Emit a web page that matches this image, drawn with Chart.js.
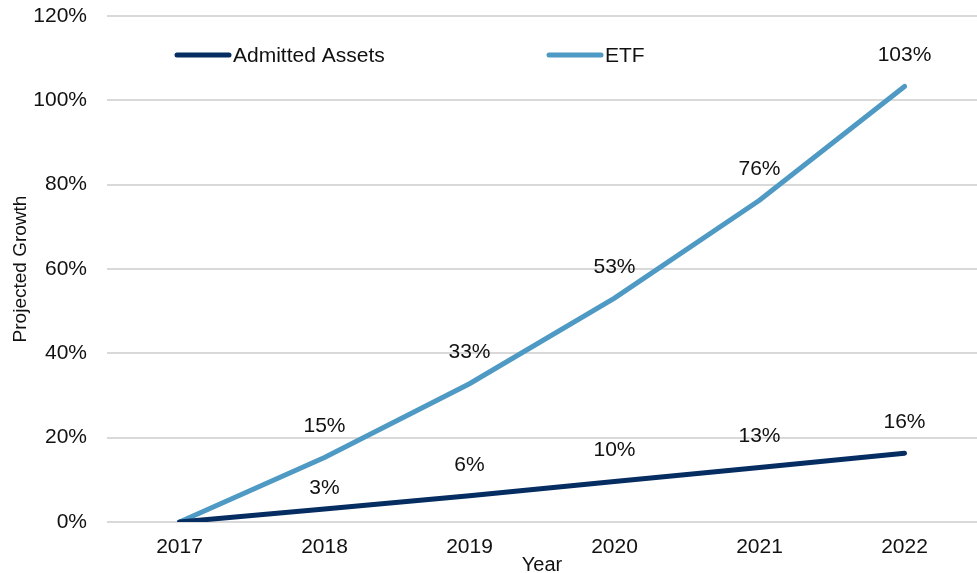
<!DOCTYPE html>
<html>
<head>
<meta charset="utf-8">
<script src="https://cdn.jsdelivr.net/npm/chart.js@4"></script>
<style>
  html, body { margin: 0; padding: 0; background: #fff; }
  #wrap { width: 977px; height: 573px; }
</style>
</head>
<body>
<div id="wrap"><canvas id="growthChart" width="977" height="573"></canvas></div>
<script>
const years = ['2017', '2018', '2019', '2020', '2021', '2022'];
const admittedAssets = [0, 3.1, 6.2, 9.6, 12.9, 16.3];
const etf = [0, 15.3, 32.8, 53.1, 76.3, 103.3];
const yTicks = [0, 20, 40, 60, 80, 100, 120];

const FONT = '"Liberation Sans", Arial, sans-serif';

// value labels above each point
const valueLabels = {
  id: 'valueLabels',
  afterDatasetsDraw(chart) {
    const ctx = chart.ctx;
    ctx.save();
    ctx.font = '21px ' + FONT;
    ctx.fillStyle = '#111';
    ctx.textAlign = 'center';
    ctx.textBaseline = 'middle';
    chart.data.datasets.forEach((ds, i) => {
      const meta = chart.getDatasetMeta(i);
      meta.data.forEach((pt, j) => {
        if (j === 0) return;
        const v = ds.data[j];
        let off = 31;
        if (i === 0 && j === 1) off = 21;
        ctx.fillText(Math.round(v) + '%', pt.x, pt.y - off);
      });
    });
    ctx.restore();
  }
};

// legend drawn inside the plot area
const innerLegend = {
  id: 'innerLegend',
  afterDraw(chart) {
    const ctx = chart.ctx;
    const y = chart.chartArea.top + 39;
    const starts = [175, 547];
    ctx.save();
    ctx.font = '21px ' + FONT;
    ctx.textBaseline = 'middle';
    ctx.lineCap = 'round';
    chart.data.datasets.forEach((ds, i) => {
      const x = starts[i];
      ctx.strokeStyle = ds.borderColor;
      ctx.lineWidth = 5;
      ctx.beginPath();
      ctx.moveTo(x + 2, y);
      ctx.lineTo(x + 54, y);
      ctx.stroke();
      ctx.fillStyle = '#111';
      ctx.fillText(ds.label, x + 58, y + 1);
    });
    ctx.restore();
  }
};

new Chart(document.getElementById('growthChart').getContext('2d'), {
  type: 'line',
  data: {
    labels: years,
    datasets: [
      {
        label: 'Admitted Assets',
        data: admittedAssets,
        borderColor: '#062d61',
        borderWidth: 5,
        borderCapStyle: 'round',
        pointRadius: 0,
        tension: 0
      },
      {
        label: 'ETF',
        data: etf,
        borderColor: '#4e9ac4',
        borderWidth: 5,
        borderCapStyle: 'round',
        pointRadius: 0,
        tension: 0
      }
    ]
  },
  options: {
    responsive: false,
    animation: false,
    layout: { padding: { top: 16, right: 0, bottom: 0, left: 0 } },
    plugins: {
      legend: { display: false },
      tooltip: { enabled: false }
    },
    scales: {
      x: {
        offset: true,
        grid: { display: false, drawTicks: false },
        border: { display: false },
        ticks: { color: '#111', font: { family: FONT, size: 21 }, padding: 13 },
        title: { display: true, text: 'Year', color: '#111', font: { family: FONT, size: 20 }, padding: { top: 0, bottom: -4 } },
        afterFit(axis) { axis.height = 51; axis.paddingLeft = 0; axis.paddingRight = 0; }
      },
      y: {
        min: 0,
        max: 120,
        afterBuildTicks(axis) { axis.ticks = yTicks.map(v => ({ value: v })); },
        grid: { color: '#d9d9d9', lineWidth: 2, drawTicks: false },
        border: { display: false },
        ticks: {
          color: '#111',
          font: { family: FONT, size: 21 },
          padding: 20,
          callback: v => v + '%'
        },
        title: { display: true, text: 'Projected Growth', color: '#111', font: { family: FONT, size: 19 }, padding: { top: 9, bottom: 0 } },
        afterFit(axis) { axis.width = 107; axis.paddingTop = 0; axis.paddingBottom = 0; }
      }
    }
  },
  plugins: [valueLabels, innerLegend]
});
</script>
</body>
</html>
